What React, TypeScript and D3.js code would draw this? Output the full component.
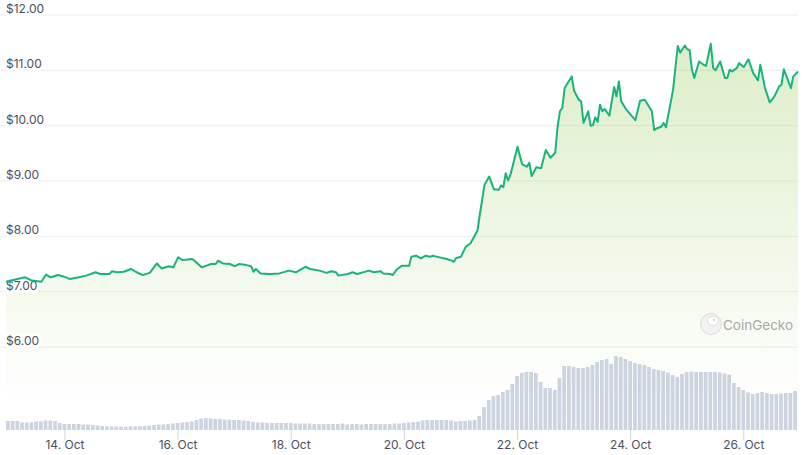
import React from "react";
import * as d3 from "d3";

// ---- data ----
const startUTC = Date.UTC(2023, 9, 12, 23);
const priceHours = [0,4,8,11,15,17,19,22,24,27,31,34,38,40,44,45,47,50,53,55,58,61,64,66,69,71,73,75,77,79,80,83,87,89,90,92,95,97,99,102,104,105,106,108,112,116,120,123,127,129,133,136,138,140,141,145,147,149,154,156,159,160,163,164,166,168,171,172,174,176,178,180,181,184,187,189,190,191,193,195,197,200,201,203,205,207,209,210,211,212,213,214,217,219,221,222,223,225,227,229,231,233,234,235,236,237,240,241,243,244,245,247,248,249,250,251,252,253,254,256,258,259,260,261,263,267,269,271,274,275,276,278,279,280,281,282,283,285,286,288,289,290,291,292,294,296,297,299,300,301,303,305,306,307,308,310,311,313,315,317,319,320,322,324,326,328,329,330,333,334,336];
const priceValues = [7.18,7.22,7.26,7.20,7.18,7.31,7.26,7.30,7.28,7.23,7.26,7.29,7.35,7.32,7.32,7.37,7.35,7.36,7.41,7.36,7.30,7.34,7.51,7.42,7.46,7.44,7.62,7.57,7.58,7.59,7.56,7.44,7.50,7.50,7.56,7.51,7.50,7.46,7.50,7.48,7.46,7.36,7.41,7.33,7.32,7.33,7.38,7.35,7.45,7.41,7.38,7.34,7.37,7.35,7.29,7.32,7.35,7.32,7.38,7.35,7.37,7.33,7.32,7.30,7.41,7.47,7.47,7.63,7.65,7.60,7.65,7.63,7.65,7.62,7.59,7.56,7.54,7.61,7.63,7.81,7.87,8.10,8.39,8.93,9.08,8.85,8.84,8.92,8.89,9.14,9.01,9.11,9.62,9.30,9.26,9.33,9.09,9.25,9.23,9.56,9.42,9.51,9.98,10.26,10.32,10.68,10.89,10.63,10.47,10.44,10.05,10.26,10.00,10.01,10.15,10.07,10.38,10.26,10.30,10.18,10.70,10.53,10.80,10.44,10.30,10.10,10.45,10.47,10.26,9.92,9.95,9.98,10.05,9.97,10.20,10.42,10.65,11.44,11.32,11.45,11.38,11.37,11.01,10.86,11.16,11.10,11.08,11.48,11.04,11.00,11.16,10.86,10.86,11.01,10.98,11.04,11.13,11.06,11.20,10.95,10.82,11.10,10.68,10.42,10.53,10.71,10.74,11.02,10.68,10.89,10.98];
// volume per 2-hour bin (relative units)
const volumeValues = [9,9,9,7.5,7.5,7.5,8.5,8.5,9.5,9.5,9,7,6,6,6,6,5.5,5.5,5,4.5,4,3.5,3.5,3.3,3.3,3.3,3.5,3.5,3.8,4,4.5,5,5.5,5.5,6,6.5,7,7.5,8,8.5,10,11.5,12,11.5,11,11,10.5,10.5,10,10,9.5,9,8,7.5,7.5,7,7,7,7,7,7,6.5,6.5,6.5,6.5,6,6,6,6,6,6,6.5,5.5,6,6,5.5,6,6,6,6,6,6,6.5,6.5,7,7.5,8,8.5,9.5,10,10,10,10,10,9.5,8.5,9,9,9.5,10,14,23,30,34,35,38,40,46,54,57,58,58,57,48,42,42,40,52,64,64,63,62,62,63,65,68,70,71,66,74,73,71,69,67,66,65,63,61,60,59,57.5,55,53,56,58,58.5,58,58,58,58,58,57.5,56.5,55.5,47,43,40,37.5,36,37,38,37,36,36,36.5,37,37,39];
const yTicks = [6, 7, 8, 9, 10, 11, 12];
const xTickDays = [14, 16, 18, 20, 22, 24, 26];

const W = 803;
const H = 455;
const HOUR = 3600e3;
const FONT = "Inter, 'Noto Sans', sans-serif";

export default function App() {
  const x = d3
    .scaleTime()
    .domain([new Date(startUTC), new Date(startUTC + 336 * HOUR)])
    .range([6, 798]);
  const y = d3.scaleLinear().domain([6, 12]).range([347, 15]);
  const yv = d3.scaleLinear().domain([0, 80]).range([430, 350]);

  const pts = priceHours.map((h, i) => ({ t: new Date(startUTC + h * HOUR), v: priceValues[i] }));
  const line = d3
    .line<{ t: Date; v: number }>()
    .x((d) => x(d.t))
    .y((d) => y(d.v));
  const area = d3
    .area<{ t: Date; v: number }>()
    .x((d) => x(d.t))
    .y0(430)
    .y1((d) => y(d.v));

  const fmtY = (v: number) => "$" + v.toFixed(2);
  const ticks = xTickDays.map((d) => ({ d, t: new Date(Date.UTC(2023, 9, d)) }));

  return (
    <svg
      width={W}
      height={H}
      style={{ position: "fixed", left: 0, top: 0, background: "#fff" }}
      fontFamily={FONT}
    >
      <defs>
        <linearGradient id="areaGrad" gradientUnits="userSpaceOnUse" x1="0" y1="15" x2="0" y2="400">
          <stop offset="0" stopColor="#8dc647" stopOpacity={0.32} />
          <stop offset="1" stopColor="#8dc647" stopOpacity={0} />
        </linearGradient>
      </defs>
      {/* grid */}
      {yTicks.map((v) => (
        <line key={v} x1={0} x2={798} y1={y(v)} y2={y(v)} stroke="#ececec" strokeWidth={1} />
      ))}
      {/* area */}
      <path d={area(pts) || ""} fill="url(#areaGrad)" />
      {/* volume */}
      {volumeValues.map((v, k) => {
        const x0 = x(new Date(startUTC + 2 * k * HOUR));
        const x1 = x(new Date(startUTC + 2 * (k + 1) * HOUR));
        return (
          <rect
            key={k}
            x={x0}
            y={yv(v)}
            width={Math.max(0, x1 - x0 - 1)}
            height={430 - yv(v)}
            fill="#ccd4e0"
          />
        );
      })}
      {/* y labels */}
      {yTicks.map((v) => (
        <text
          key={v}
          x={6}
          y={y(v) - 2}
          fontSize={12}
          fill="#4a5060"
          stroke="#fff"
          strokeWidth={6}
          paintOrder="stroke"
          strokeLinejoin="round"
        >
          {fmtY(v)}
        </text>
      ))}
      {/* line */}
      <path d={line(pts) || ""} fill="none" stroke="#19b47c" strokeWidth={2} strokeLinejoin="round" />
      {/* x axis */}
      {ticks.map(({ d, t }) => (
        <g key={d}>
          <line x1={x(t)} x2={x(t)} y1={430} y2={440} stroke="#d0d6e2" strokeWidth={1} />
          <text x={x(t)} y={449} fontSize={12} fill="#4a5060" textAnchor="middle">
            {d + ". Oct"}
          </text>
        </g>
      ))}
      {/* watermark */}
      <g>
        <circle cx={711} cy={324} r={10.5} fill="#f2f2f2" stroke="#dcdcdc" strokeWidth={1} />
        <ellipse cx={713} cy={321} rx={5.5} ry={4.5} fill="#fff" stroke="#d6d6d6" strokeWidth={0.8} />
        <circle cx={714} cy={320} r={1} fill="#c8c8c8" />
        <text x={723} y={329.5} fontSize={13.5} fill="#a8a8a8">
          CoinGecko
        </text>
      </g>
    </svg>
  );
}
